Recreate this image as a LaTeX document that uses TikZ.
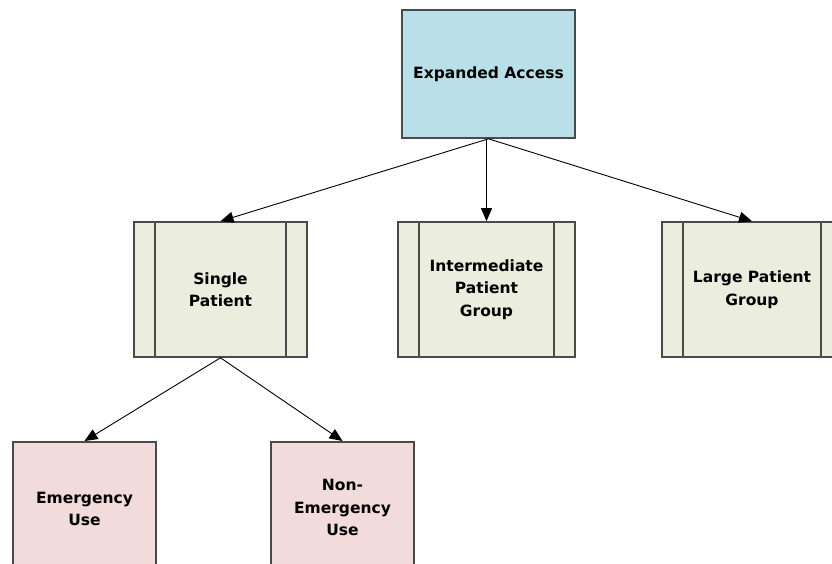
\documentclass[tikz,border=0pt]{standalone}
\usepackage{fontspec}
\setmainfont{DejaVu Sans}
\usepackage{tikz}
\usetikzlibrary{arrows.meta, positioning}

\definecolor{accessblue}{HTML}{B9DFE9}
\definecolor{groupgreen}{HTML}{EBEEDF}
\definecolor{usepink}{HTML}{F2DCDB}
\definecolor{edgegray}{HTML}{4A4A4A}

\begin{document}
\begin{tikzpicture}[
  x=1pt, y=-1pt,
  font=\fontsize{15.5}{22.5}\selectfont\bfseries,
  box/.style={rectangle, draw=edgegray, line width=1.6pt, text centered, align=center, inner sep=0pt},
  access/.style={box, fill=accessblue, minimum width=173pt, minimum height=128pt},
  subproc/.style={box, fill=groupgreen, minimum height=135pt,
    path picture={
      \draw[edgegray, line width=1.6pt]
        ([xshift=21pt]path picture bounding box.north west) -- ([xshift=21pt]path picture bounding box.south west)
        ([xshift=-21pt]path picture bounding box.north east) -- ([xshift=-21pt]path picture bounding box.south east);
    }},
  usebox/.style={box, fill=usepink, minimum width=143pt, minimum height=140pt},
  arrow/.style={black, line width=0.9pt, -{Triangle[length=13pt, width=11pt]}}
]
\useasboundingbox (0,0) rectangle (832,564);
\node (access) [access] at (488.5,74) {Expanded Access};
\node (single) [subproc, minimum width=173pt] at (220.5,289.5) {Single\\Patient};
\node (inter) [subproc, minimum width=177pt] at (486.5,289.5) {Intermediate\\Patient\\Group};
\node (large) [subproc, minimum width=180pt] at (752,289.5) {Large Patient\\Group};
\node (emerg) [usebox, anchor=north] at (84.5,441) {\\[-17pt]Emergency\\Use};
\node (nonemerg) [usebox, anchor=north] at (342.5,441) {\\[-19pt]Non-\\Emergency\\Use};
\draw [arrow] (access.south) -- (single.north);
\draw [arrow] (access.south -| inter.north) -- (inter.north);
\draw [arrow] (access.south) -- (large.north);
\draw [arrow] (single.south) -- (emerg.north);
\draw [arrow] (single.south) -- (nonemerg.north);
\end{tikzpicture}
\end{document}
